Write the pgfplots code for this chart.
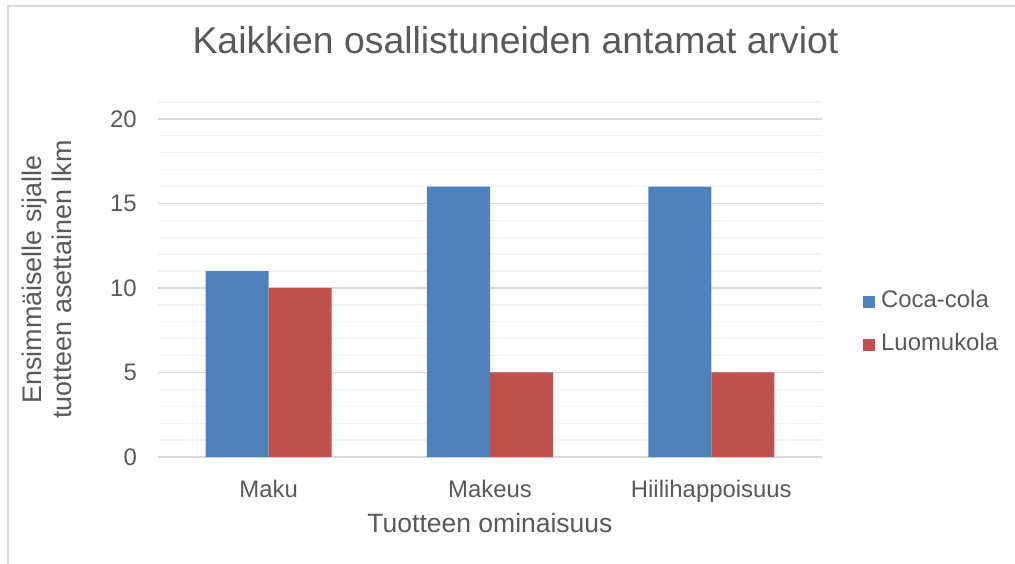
\documentclass[border=0pt]{standalone}
\usepackage{fontspec}
\setmainfont{Liberation Sans}
\usepackage{pgfplots}
\pgfplotsset{compat=1.18}
\definecolor{txt}{HTML}{595959}
\definecolor{cocablue}{HTML}{4F81BD}
\definecolor{luomured}{HTML}{C0504D}
\definecolor{gridmajor}{HTML}{D9D9D9}
\definecolor{gridminor}{HTML}{F2F2F2}
\definecolor{frame}{HTML}{D9D9D9}
\begin{document}
\begin{tikzpicture}
\useasboundingbox (0,0) rectangle (1015bp,-564bp);
\draw[frame, line width=1.2bp] (8bp,-700bp) -- (8bp,-6bp) -- (1200bp,-6bp);
\begin{axis}[
  at={(158bp,-457bp)}, anchor=south west,
  scale only axis, width=664bp, height=355bp,
  ymin=0, ymax=21, xmin=-0.5, xmax=2.5,
  ybar=0pt, bar width=0.285,
  xtick={0,1,2}, xticklabels={Maku,Makeus,Hiilihappoisuus},
  ytick={0,5,10,15,20},
  minor ytick={1,2,3,4,6,7,8,9,11,12,13,14,16,17,18,19,21},
  ymajorgrids, yminorgrids,
  major grid style={draw=gridmajor, line width=1.3bp},
  minor grid style={draw=gridminor, line width=1.3bp},
  axis line style={draw=none},
  tick style={draw=none},
  /pgf/number format/assume math mode=true,
  tick label style={font=\fontsize{24}{28}\selectfont, text=txt},
  yticklabel style={anchor=east, inner sep=0pt, xshift=-21bp},
  xticklabel style={anchor=base, inner sep=0pt, yshift=-36bp},
  title={Kaikkien osallistuneiden antamat arviot},
  title style={at={(axis description cs:0.5384,1)}, anchor=base, inner sep=0pt, yshift=43bp, font=\fontsize{37.5}{40}\selectfont, text=txt},
  xlabel={Tuotteen ominaisuus},
  xlabel style={at={(axis description cs:0.5,0)}, anchor=base, inner sep=0pt, yshift=-75bp, font=\fontsize{26.6}{30}\selectfont, text=txt},
  ylabel={Ensimmäiselle sijalle\\tuotteen asettainen lkm},
  ylabel style={at={(axis description cs:-0.1672,0.5)}, anchor=center, inner sep=0pt, align=center, font=\fontsize{27}{29.5}\selectfont, text=txt},
  legend style={at={(axis description cs:1.0617,0.377)}, anchor=west, draw=none, fill=none, inner sep=0pt,
    font=\fontsize{24}{28}\selectfont, text=txt, row sep=21bp,
    nodes={inner sep=0pt, text height=17bp, text depth=5bp}},
  legend cell align=left,
  legend image code/.code={\fill[#1] (0bp,-6bp) rectangle (12bp,6bp); \path (18bp,0bp);},
]
\addplot[fill=cocablue, draw=none] coordinates {(0,11) (1,16) (2,16)};
\addplot[fill=luomured, draw=none] coordinates {(0,10) (1,5) (2,5)};
\legend{Coca-cola,Luomukola}
\end{axis}
\end{tikzpicture}
\end{document}
